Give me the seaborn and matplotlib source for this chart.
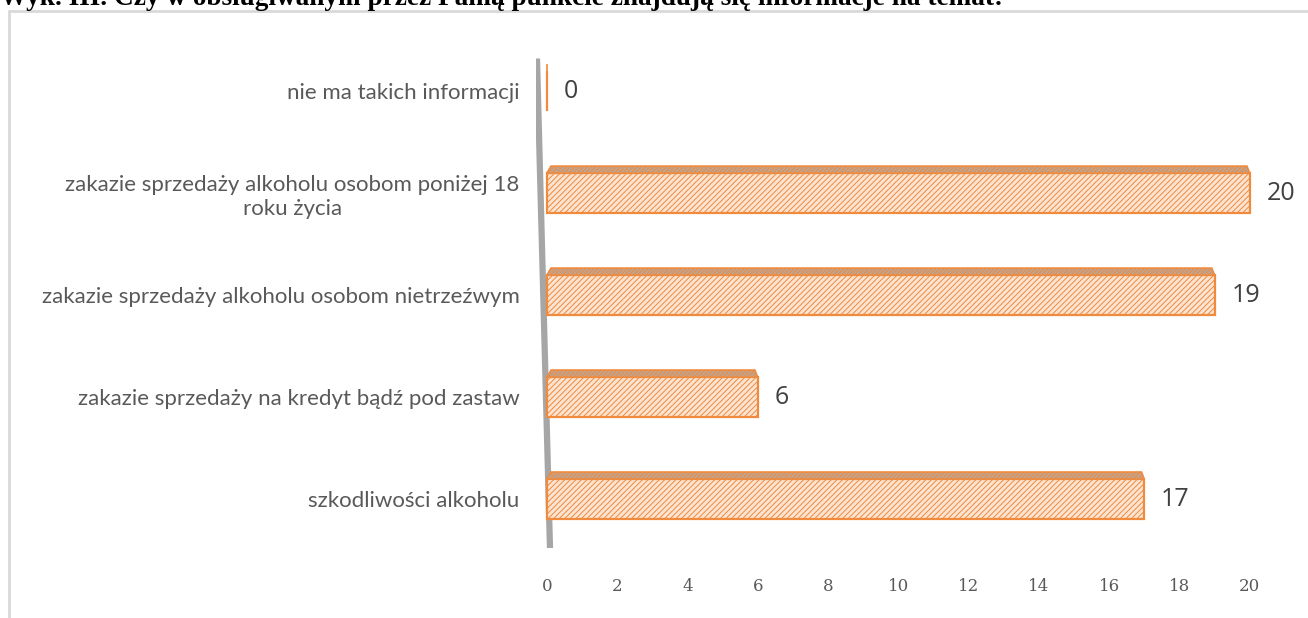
import numpy as np
import pandas as pd
import matplotlib
matplotlib.use("Agg")
import matplotlib.pyplot as plt
from matplotlib.patches import Polygon
from matplotlib.lines import Line2D
import seaborn as sns

# data
categories = [
    "nie ma takich informacji",
    "zakazie sprzedaży alkoholu osobom poniżej 18\nroku życia",
    "zakazie sprzedaży alkoholu osobom nietrzeźwym",
    "zakazie sprzedaży na kredyt bądź pod zastaw",
    "szkodliwości alkoholu",
]
values = [0, 20, 19, 6, 17]
x_ticks = [0, 2, 4, 6, 8, 10, 12, 14, 16, 18, 20]
title = "Wyk. III. Czy w obsługiwanym przez Panią punkcie znajdują się informacje na temat:"

df = pd.DataFrame({"kategoria": categories, "liczba": values})

sns.set_theme(style="white")
plt.rcParams["hatch.linewidth"] = 0.7

FRONT = "#FCE4D2"
EDGE = "#F08A3C"
TOP = "#BDA594"
WALL = "#A6A6A6"
LABEL = "#595959"

fig = plt.figure(figsize=(13.08, 6.18), dpi=100)
ax = fig.add_axes([0.410, 0.110, 0.5616, 0.825])

bar_h = 0.39
sns.barplot(data=df, y="kategoria", x="liczba", orient="h", ax=ax,
            color=FRONT, width=bar_h, edgecolor=EDGE, linewidth=1.6,
            hatch="//////", saturation=1)

ax.set_xlim(-0.3, 20.6)
ax.set_ylim(4.5, -0.5)

# gray back wall, slanted like the 3D Excel chart
ax.plot([-0.28, 0.09], [-0.32, 4.48], color=WALL, lw=4.5, solid_capstyle="butt", zorder=1)

# top faces of the 3D bars
depth = 0.07
for i, v in enumerate(values):
    yt = i - bar_h / 2
    poly = Polygon([(0, yt), (v, yt), (max(v - 0.08, 0), yt - depth), (0.12 if v > 0 else 0, yt - depth)],
                   closed=True, facecolor=TOP, edgecolor=EDGE, hatch="////////", lw=1.2, zorder=3)
    ax.add_patch(poly)
    ax.annotate(str(v), xy=(v, i), xytext=(12, 0), textcoords="offset points",
                va="center", ha="left", fontsize=18, color="#404040", family="Open Sans")

for p in ax.patches:
    p.set_zorder(2)

ax.set_xticks(x_ticks)
ax.set_xticklabels([str(t) for t in x_ticks], family="DejaVu Serif", fontsize=12, color=LABEL)
ax.tick_params(axis="x", length=0, pad=20)
ax.set_yticks(range(len(categories)))
ax.set_yticklabels(categories, fontsize=16, color=LABEL, family="Lato",
                   multialignment="center", linespacing=1.25)
ax.tick_params(axis="y", length=0, pad=12)
ax.set_xlabel("")
ax.set_ylabel("")
for s in ax.spines.values():
    s.set_visible(False)

# chart frame (clipped by the page like the reference)
fig.add_artist(Line2D([9 / 1308, 1.0], [1 - 11 / 618, 1 - 11 / 618], color="#D9D9D9", lw=2))
fig.add_artist(Line2D([9 / 1308, 9 / 1308], [0, 1 - 11 / 618], color="#D9D9D9", lw=2))

# title, cut off at the top of the page
fig.text(0.0, 1 - 5 / 618, title, ha="left", va="baseline", fontsize=19.6,
         fontweight="bold", family="Liberation Serif", color="black")

fig.savefig("out.png", dpi=100)
